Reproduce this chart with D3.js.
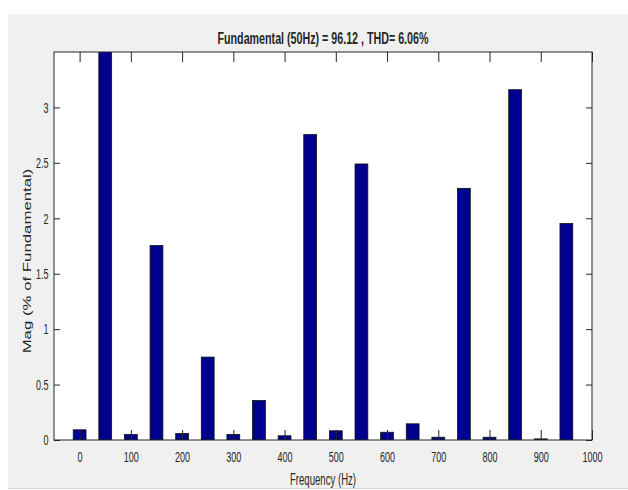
<!DOCTYPE html>
<html>
<head>
<meta charset="utf-8">
<script src="https://cdn.jsdelivr.net/npm/d3@7/dist/d3.min.js"></script>
<style>
  html, body { margin: 0; padding: 0; background: #ffffff; }
  svg { display: block; }
  text { font-family: "Liberation Sans", Arial, sans-serif; fill: #262626; }
</style>
</head>
<body>
<svg id="chart" width="628" height="490"></svg>
<script>
// ---- data ----
const frequencies = [0, 50, 100, 150, 200, 250, 300, 350, 400, 450, 500, 550, 600, 650, 700, 750, 800, 850, 900, 950];
const magnitudes  = [0.092, 100, 0.05, 1.754, 0.059, 0.748, 0.05, 0.356, 0.038, 2.755, 0.083, 2.49, 0.07, 0.146, 0.025, 2.27, 0.025, 3.16, 0.01, 1.953];
const xTickValues = [0, 100, 200, 300, 400, 500, 600, 700, 800, 900, 1000];
const yTickValues = [0, 0.5, 1, 1.5, 2, 2.5, 3];
const yTickLabels = ["0", "0.5", "1", "1.5", "2", "2.5", "3"];
const titleText = "Fundamental (50Hz) = 96.12 , THD= 6.06%";
const xLabelText = "Frequency (Hz)";
const yLabelText = "Mag (% of Fundamental)";
const barHalfWidthHz = 12.5;

// ---- layout ----
const W = 628, H = 490;
const plot = { left: 54, top: 52, right: 592, bottom: 440 };
const SQ = 0.6; // horizontal squish of the reference image

const svg = d3.select("#chart");

// figure background
svg.append("rect").attr("x", 0).attr("y", 0).attr("width", W).attr("height", H).attr("fill", "#ffffff");
svg.append("rect").attr("x", 8).attr("y", 14).attr("width", W - 8).attr("height", 475).attr("fill", "#f0f0f0");

const x = d3.scaleLinear().domain([-50, 1000]).range([plot.left, plot.right]);
const y = d3.scaleLinear().domain([0, 3.5]).range([plot.bottom, plot.top]);

// plot area
svg.append("rect")
  .attr("x", plot.left).attr("y", plot.top)
  .attr("width", plot.right - plot.left).attr("height", plot.bottom - plot.top)
  .attr("fill", "#ffffff");

svg.append("clipPath").attr("id", "clip")
  .append("rect")
  .attr("x", plot.left).attr("y", plot.top)
  .attr("width", plot.right - plot.left).attr("height", plot.bottom - plot.top);

// bars
svg.append("g").attr("clip-path", "url(#clip)")
  .selectAll("rect")
  .data(frequencies.map((f, i) => ({ f, v: magnitudes[i] })))
  .join("rect")
  .attr("x", d => x(d.f - barHalfWidthHz))
  .attr("width", d => x(d.f + barHalfWidthHz) - x(d.f - barHalfWidthHz))
  .attr("y", d => y(d.v))
  .attr("height", d => y(0) - y(d.v))
  .attr("fill", "#00008f")
  .attr("stroke", "#111111")
  .attr("stroke-width", 0.8);

// axes (inward ticks)
const axisColor = "#262626";
const xAxisBottom = d3.axisBottom(x).tickValues(xTickValues).tickSizeInner(-10).tickSizeOuter(0).tickPadding(11).tickFormat(d3.format("d"));
const gxb = svg.append("g").attr("transform", `translate(0,${plot.bottom})`).call(xAxisBottom);
const xAxisTop = d3.axisTop(x).tickValues(xTickValues).tickSizeInner(-10).tickSizeOuter(0).tickFormat("");
const gxt = svg.append("g").attr("transform", `translate(0,${plot.top})`).call(xAxisTop);
const yAxisLeft = d3.axisLeft(y).tickValues(yTickValues).tickSizeInner(-6).tickSizeOuter(0).tickPadding(0)
  .tickFormat((d, i) => yTickLabels[i]);
const gyl = svg.append("g").attr("transform", `translate(${plot.left},0)`).call(yAxisLeft);
const yAxisRight = d3.axisRight(y).tickValues(yTickValues).tickSizeInner(-6).tickSizeOuter(0).tickFormat("");
const gyr = svg.append("g").attr("transform", `translate(${plot.right},0)`).call(yAxisRight);

[gxb, gxt, gyl, gyr].forEach(g => {
  g.select(".domain").remove();
  g.selectAll("line").attr("stroke", axisColor).attr("stroke-width", 1);
});

gxb.selectAll("text")
  .attr("font-family", "Liberation Sans, Arial, sans-serif")
  .attr("font-size", 15)
  .attr("fill", axisColor)
  .attr("transform", `scale(${SQ},1)`);

gyl.selectAll("text")
  .attr("font-family", "Liberation Sans, Arial, sans-serif")
  .attr("font-size", 15)
  .attr("fill", axisColor)
  .attr("x", -5.5 / SQ)
  .attr("transform", `scale(${SQ},1)`);

// box
svg.append("rect")
  .attr("x", plot.left).attr("y", plot.top)
  .attr("width", plot.right - plot.left).attr("height", plot.bottom - plot.top)
  .attr("fill", "none").attr("stroke", axisColor).attr("stroke-width", 1);

// title
svg.append("text")
  .attr("transform", `translate(${(plot.left + plot.right) / 2},44) scale(0.63,1)`)
  .attr("text-anchor", "middle")
  .attr("font-size", 17)
  .attr("font-weight", "bold")
  .attr("fill", "#000000")
  .text(titleText);

// x label
svg.append("text")
  .attr("transform", `translate(${(plot.left + plot.right) / 2},484.5) scale(${SQ},1)`)
  .attr("text-anchor", "middle")
  .attr("font-size", 16)
  .attr("fill", axisColor)
  .text(xLabelText);

// y label
svg.append("text")
  .attr("transform", `translate(31,261) scale(${SQ},1) rotate(-90)`)
  .attr("text-anchor", "middle")
  .attr("font-size", 16.8)
  .attr("fill", axisColor)
  .text(yLabelText);

// bottom edge
svg.append("line").attr("x1", 8).attr("x2", W).attr("y1", 488.5).attr("y2", 488.5).attr("stroke", "#d8d8d8");
</script>
</body>
</html>
